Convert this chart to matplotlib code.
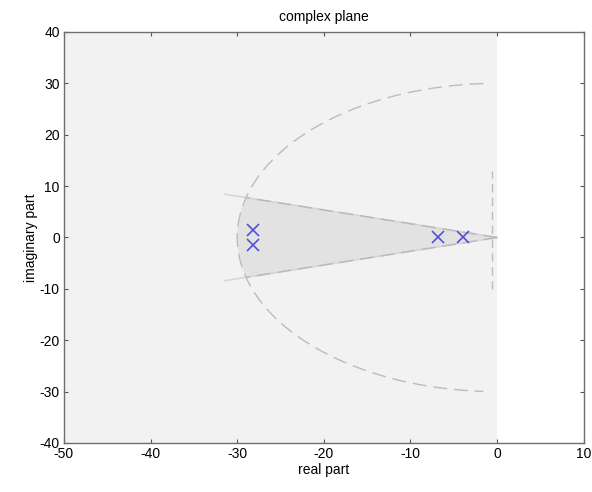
import numpy as np
import matplotlib
matplotlib.use("Agg")
import matplotlib.pyplot as plt

plt.rcParams['font.family'] = ['Liberation Sans', 'DejaVu Sans']
plt.rcParams['axes.unicode_minus'] = False

# closed-loop poles
pole_re = [-28.2, -28.2, -6.8, -3.9]
pole_im = [1.5, -1.5, 0.0, 0.0]

# pole region bounds (radius, sector half-angle in deg, max real part)
radius = 30.0
half_angle = 15.0
alpha = -0.6
vline_ylim = [-10.0, 13.0]

xlim = [-50, 10]
ylim = [-40, 40]
xticks = [-50, -40, -30, -20, -10, 0, 10]
yticks = [-40, -30, -20, -10, 0, 10, 20, 30, 40]

fig = plt.figure(figsize=(5.92, 4.92), dpi=100)
ax = fig.add_axes([0.108, 0.0996, 0.878, 0.8354])

# stable half-plane
ax.axvspan(xlim[0], 0, color='#f2f2f2', zorder=0, lw=0)

# sector / disk / vertical line region
th = np.deg2rad(half_angle)
arc_t = np.linspace(np.pi - th, np.pi + th, 50)
wx = np.concatenate([[alpha], radius * np.cos(arc_t), [alpha]])
wy = np.concatenate([[-alpha * np.tan(th)], radius * np.sin(arc_t), [alpha * np.tan(th)]])
ax.fill(wx, wy, color='#e2e2e2', lw=0, zorder=1)

# sector edges
r_ext = 32.5
for s in (1, -1):
    ex = -r_ext * np.cos(th)
    ey = s * r_ext * np.sin(th)
    ax.plot([0, ex], [0, ey], color='#d6d6d6', lw=1.2, zorder=2)
    ax.plot([0, -radius * np.cos(th)], [0, s * radius * np.sin(th)],
            color='#b8b8b8', lw=1.0, dashes=(10, 5), zorder=3)

# disk boundary
t = np.linspace(np.deg2rad(93), np.deg2rad(267), 200)
ax.plot(radius * np.cos(t), radius * np.sin(t), color='#bcbcbc', lw=1.0,
        dashes=(10, 5), zorder=3)

# vertical bound
ax.plot([alpha, alpha], vline_ylim, color='#bcbcbc', lw=1.0, dashes=(6, 4), zorder=3)

ax.plot(pole_re, pole_im, 'x', color='#5252d6', markersize=9, mew=1.2, zorder=4)

ax.set_xlim(xlim)
ax.set_ylim(ylim)
ax.set_xticks(xticks)
ax.set_yticks(yticks)
ax.tick_params(direction='in', top=True, right=True, labelsize=10,
               color='#555555', length=3, pad=3)
for sp in ax.spines.values():
    sp.set_color('#6e6e6e')
    sp.set_linewidth(1.0)

ax.set_xlabel('real part', fontsize=10, labelpad=1)
ax.set_ylabel('imaginary part', fontsize=10, labelpad=1)
ax.set_title('complex plane', fontsize=10, pad=8)

fig.savefig('out.png', dpi=100)
